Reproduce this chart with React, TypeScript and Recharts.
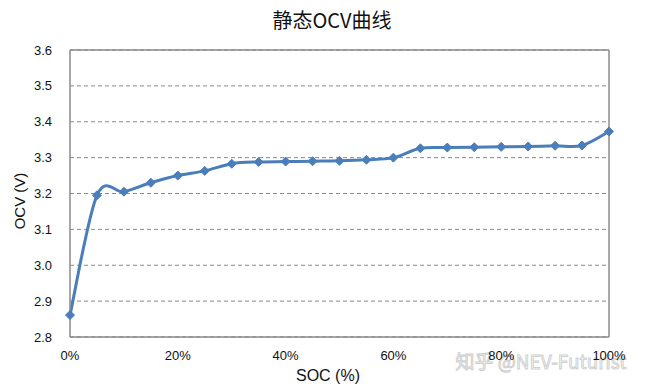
import React from 'react';
import { LineChart, Line, XAxis, YAxis, CartesianGrid, ReferenceLine } from 'recharts';

const socValues = [0, 5, 10, 15, 20, 25, 30, 35, 40, 45, 50, 55, 60, 65, 70, 75, 80, 85, 90, 95, 100];
const ocvValues = [2.861, 3.195, 3.205, 3.23, 3.25, 3.263, 3.283, 3.288, 3.289, 3.29, 3.291, 3.294, 3.3, 3.326, 3.328, 3.329, 3.33, 3.331, 3.333, 3.334, 3.373];
const xTicks = [0, 20, 40, 60, 80, 100];
const yTicks = [2.8, 2.9, 3.0, 3.1, 3.2, 3.3, 3.4, 3.5, 3.6];

const data = socValues.map((s, i) => ({ soc: s, ocv: ocvValues[i] }));

// Catmull-Rom style smoothing similar to Excel's smoothed line
function smoothCurve(context: any) {
  let pts: number[][] = [];
  return {
    areaStart() {},
    areaEnd() {},
    lineStart() { pts = []; },
    point(x: number, y: number) { pts.push([+x, +y]); },
    lineEnd() {
      if (!pts.length) return;
      context.moveTo(pts[0][0], pts[0][1]);
      for (let i = 0; i < pts.length - 1; i++) {
        const p0 = pts[i - 1] || pts[i];
        const p1 = pts[i];
        const p2 = pts[i + 1];
        const p3 = pts[i + 2] || p2;
        const t = 6;
        context.bezierCurveTo(
          p1[0] + (p2[0] - p0[0]) / t, p1[1] + (p2[1] - p0[1]) / t,
          p2[0] - (p3[0] - p1[0]) / t, p2[1] - (p3[1] - p1[1]) / t,
          p2[0], p2[1]
        );
      }
    },
  };
}

const Diamond = (props: any) => {
  const { cx, cy } = props;
  if (cx == null || cy == null) return null;
  const r = 4.5;
  return <path d={`M${cx},${cy - r}L${cx + r},${cy}L${cx},${cy + r}L${cx - r},${cy}Z`} fill="#4A7EBB" stroke="#4A7EBB" strokeWidth={1} />;
};

const font = 'Arial, "Liberation Sans", sans-serif';

export default function App() {
  return (
    <div style={{ position: 'absolute', left: 0, top: 0, width: 645, height: 391, background: '#fff' }}>
      <LineChart width={645} height={391} data={data} margin={{ top: 50, right: 36, bottom: 24, left: 30 }}>
        <text x={332} y={28} textAnchor="middle" fontSize={20} fontFamily='"Noto Sans CJK SC", sans-serif' fill="#111">静态OCV曲线</text>
        <text x={0} y={0} transform="translate(25,201) rotate(-90)" textAnchor="middle" fontSize={15} fontFamily={font} fill="#111">OCV (V)</text>
        <text x={328} y={381} textAnchor="middle" fontSize={16} fontFamily={font} fill="#111">SOC (%)</text>
        <text x={541} y={369} textAnchor="middle" fontSize={19} fontFamily='"Noto Sans CJK SC", sans-serif' fill="none" stroke="#d0d0d0" strokeWidth={1}>知乎 @NEV-Futurist</text>
        <CartesianGrid horizontal vertical={false} stroke="#8a8a8a" strokeDasharray="4 3" />
        <XAxis
          dataKey="soc"
          type="number"
          domain={[0, 100]}
          ticks={xTicks}
          tickFormatter={(v: number) => `${v}%`}
          tickLine={false}
          axisLine={{ stroke: '#8a8a8a', strokeWidth: 1.5 }}
          tick={{ fontSize: 13, fill: '#111', fontFamily: font }}
          tickMargin={8}
          height={30}
        />
        <YAxis
          type="number"
          domain={[2.8, 3.6]}
          ticks={yTicks}
          tickFormatter={(v: number) => v.toFixed(1)}
          tickLine={false}
          axisLine={{ stroke: '#8a8a8a', strokeWidth: 1.5 }}
          tick={{ fontSize: 13, fill: '#111', fontFamily: font }}
          tickMargin={12}
          width={40}
          interval={0}
        />
        <ReferenceLine y={3.6} stroke="#8a8a8a" strokeWidth={1.5} />
        <ReferenceLine x={100} stroke="#8a8a8a" strokeWidth={1.5} />
        <Line
          dataKey="ocv"
          type={smoothCurve as any}
          stroke="#4A7EBB"
          strokeWidth={3}
          dot={<Diamond />}
          activeDot={false}
          isAnimationActive={false}
        />
      </LineChart>
    </div>
  );
}
